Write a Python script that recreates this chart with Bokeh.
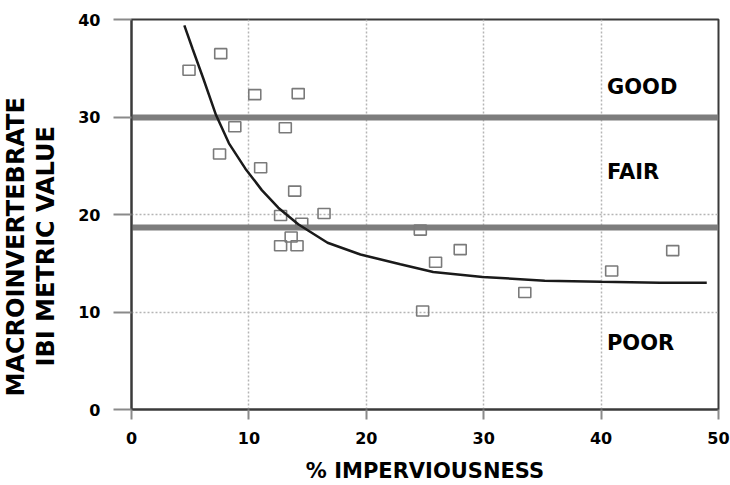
from bokeh.plotting import figure
from bokeh.models import ColumnDataSource, FixedTicker, Title
from bokeh.core.properties import value
from bokeh.embed import file_html
from bokeh.resources import INLINE

# ---- data ----
imperv = [4.9, 7.6, 10.5, 14.2, 8.8, 13.1, 7.5, 11.0, 13.9, 12.7, 16.4,
          14.5, 13.6, 12.7, 14.1, 24.6, 28.0, 25.9, 24.8, 33.5, 40.9, 46.1]
ibi = [34.8, 36.5, 32.3, 32.4, 29.0, 28.9, 26.2, 24.8, 22.4, 19.9, 20.1,
       19.1, 17.7, 16.8, 16.8, 18.4, 16.4, 15.1, 10.1, 12.0, 14.2, 16.3]

curve_x = [4.5, 5.2, 6.1, 7.2, 8.3, 9.7, 11.1, 12.5, 14.2, 16.7, 19.5,
           22.9, 25.7, 29.9, 35.2, 40.0, 45.0, 49.0]
curve_y = [39.4, 37.0, 34.0, 30.2, 27.3, 24.7, 22.5, 20.7, 19.0, 17.1, 15.9,
           14.9, 14.1, 13.6, 13.2, 13.1, 13.0, 13.0]

thresholds = [30.0, 18.7]
band_labels = ["GOOD", "FAIR", "POOR"]
band_label_y = [33.1, 24.4, 6.8]
band_label_x = [40.5, 40.5, 40.5]

x_ticks = [0, 10, 20, 30, 40, 50]
y_ticks = [0, 10, 20, 30, 40]
x_title = "% IMPERVIOUSNESS"
y_title_lines = ["MACROINVERTEBRATE", "IBI METRIC VALUE"]

FONT = "DejaVu Sans"

p = figure(width=730, height=485, x_range=(0, 50), y_range=(0, 40),
           output_backend="svg", toolbar_location=None,
           min_border_left=131, min_border_right=12, min_border_top=19,
           min_border_bottom=75)
p.background_fill_color = "white"
p.border_fill_color = "white"
p.outline_line_color = "#3a3a3a"
p.outline_line_width = 2

# grid
for g in (p.xgrid, p.ygrid):
    g.grid_line_color = "#b5b5b5"
    g.grid_line_dash = "2 2"
    g.grid_line_width = 1.5
p.xgrid.ticker = FixedTicker(ticks=x_ticks)
p.ygrid.ticker = FixedTicker(ticks=y_ticks)

# axes
p.xaxis.ticker = FixedTicker(ticks=x_ticks)
p.yaxis.ticker = FixedTicker(ticks=y_ticks)
for ax in (p.xaxis, p.yaxis):
    ax.axis_line_color = "#3a3a3a"
    ax.axis_line_width = 2
    ax.major_tick_line_color = "#8a8a8a"
    ax.major_tick_line_width = 2
    ax.major_tick_in = 0
    ax.minor_tick_line_color = None
    ax.major_label_text_font = FONT
    ax.major_label_text_font_style = "bold"
    ax.major_label_text_font_size = "16px"
    ax.major_label_text_color = "black"
p.yaxis.major_tick_out = 18
p.yaxis.major_label_standoff = 13
p.xaxis.major_tick_out = 10
p.xaxis.major_label_standoff = 12

p.xaxis.axis_label = x_title
p.xaxis.axis_label_text_font = FONT
p.xaxis.axis_label_text_font_style = "bold"
p.xaxis.axis_label_text_font_size = "21px"
p.xaxis.axis_label_text_color = "black"
p.xaxis.axis_label_standoff = 12

# threshold lines
p.hspan(y=thresholds, line_color="#7d7d7d", line_width=6)

# data points (hollow squares)
src = ColumnDataSource(dict(x=imperv, y=ibi))
p.rect(x="x", y="y", width=12, height=10, width_units="screen",
       height_units="screen", source=src, fill_color=None,
       line_color="#7a7a7a", line_width=1.6)

# fitted curve
p.line(curve_x, curve_y, line_color="#1a1a1a", line_width=2.5)

# band labels
lab_src = ColumnDataSource(dict(x=band_label_x, y=band_label_y, t=band_labels))
p.text(x="x", y="y", text="t", source=lab_src, text_font=value(FONT),
       text_font_style="bold", text_font_size="21px", text_color="black",
       text_align="left", text_baseline="middle")

# spacer between tick labels and the y title
p.add_layout(Title(text=" ", text_font_size="1px", standoff=12), "left")
# two-line y-axis title (inner line added first, sits nearest the axis)
p.add_layout(Title(text=y_title_lines[1], align="left", offset=43,
                   vertical_align="middle", standoff=0, text_font=FONT,
                   text_font_style="bold", text_font_size="24px",
                   text_color="black"), "left")
p.add_layout(Title(text=y_title_lines[0], align="left", offset=13,
                   vertical_align="middle", standoff=0, text_font=FONT,
                   text_font_style="bold", text_font_size="24px",
                   text_color="black"), "left")

open("out.html", "w").write(file_html(p, INLINE))
